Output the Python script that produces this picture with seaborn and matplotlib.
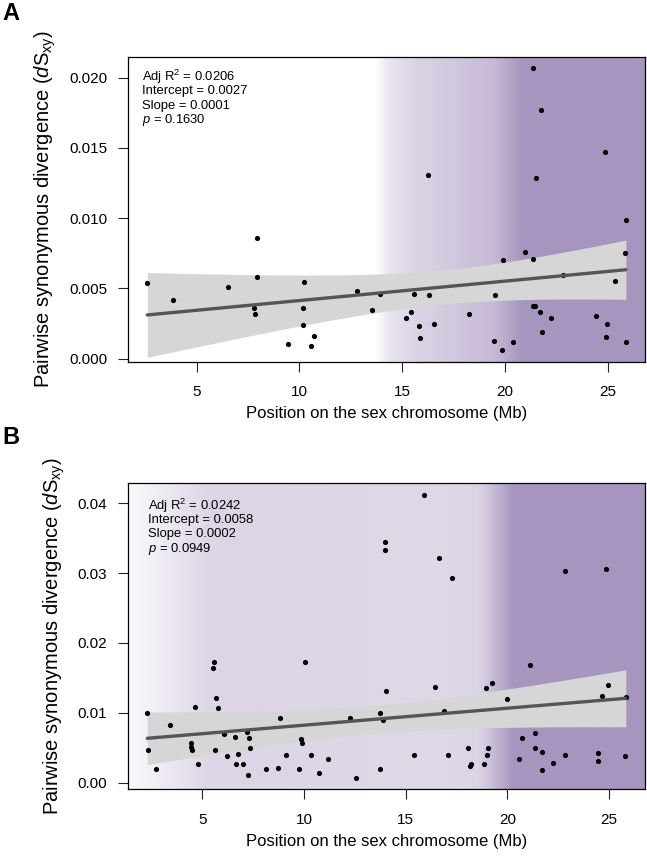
import numpy as np
import pandas as pd
import seaborn as sns
import matplotlib.pyplot as plt
from matplotlib.ticker import FormatStrFormatter

# panel A: positions (Mb) and dSxy
pos_a = [2.60, 3.86, 6.54, 7.95, 7.92, 7.79, 7.86, 9.45, 10.24, 10.15, 10.19, 10.70,
         10.58, 12.82, 13.52, 13.91, 21.36, 21.73, 16.25, 21.52, 24.84, 25.85, 20.94,
         19.88, 21.34, 25.81, 25.33, 15.56, 16.30, 19.49, 22.80, 15.41, 15.17, 15.82,
         15.88, 16.53, 18.23, 19.48, 19.85, 20.40, 21.36, 21.44, 21.68, 22.25, 21.79,
         24.44, 24.95, 24.92, 25.87]
ds_a = [0.00539, 0.00420, 0.00510, 0.00858, 0.00578, 0.00361, 0.00320, 0.00102, 0.00546,
        0.00361, 0.00241, 0.00161, 0.00090, 0.00478, 0.00349, 0.00460, 0.02066, 0.01771,
        0.01305, 0.01285, 0.01472, 0.00987, 0.00759, 0.00701, 0.00710, 0.00752, 0.00552,
        0.00463, 0.00453, 0.00453, 0.00594, 0.00334, 0.00286, 0.00235, 0.00148, 0.00247,
        0.00315, 0.00126, 0.00058, 0.00116, 0.00376, 0.00376, 0.00334, 0.00286, 0.00186,
        0.00305, 0.00247, 0.00157, 0.00116]

# panel B
pos_b = [2.30, 2.36, 2.75, 3.44, 4.67, 4.43, 4.44, 4.48, 4.79, 5.51, 5.56, 5.69, 5.80,
         5.61, 6.07, 6.21, 6.59, 6.64, 6.77, 7.03, 7.21, 7.31, 7.34, 7.25, 8.13, 8.72,
         8.82, 9.10, 9.75, 9.85, 9.90, 10.07, 10.36, 10.74, 11.20, 12.28, 12.56, 13.74,
         13.74, 13.89, 14.03, 15.41, 16.43, 16.87, 17.10, 18.08, 18.16, 18.23, 18.87,
         18.97, 19.26, 19.05, 18.98, 20.00, 20.59, 20.70, 21.10, 21.34, 21.36, 21.72,
         21.72, 22.25, 22.85, 24.44, 24.44, 24.66, 24.97, 25.82, 25.80, 15.90, 14.00,
         13.97, 16.62, 17.30, 22.84, 24.84]
ds_b = [0.0100, 0.00467, 0.0019, 0.0082, 0.0108, 0.0057, 0.0051, 0.0046, 0.0027, 0.01638,
        0.0172, 0.0121, 0.0107, 0.0047, 0.0070, 0.0038, 0.0065, 0.0026, 0.0041, 0.0027,
        0.0073, 0.0064, 0.0049, 0.0011, 0.0019, 0.0021, 0.0092, 0.0039, 0.0019, 0.0062,
        0.0056, 0.0173, 0.0040, 0.0014, 0.0034, 0.0092, 0.0007, 0.0100, 0.0019, 0.0090,
        0.0131, 0.0039, 0.0137, 0.0103, 0.0040, 0.0050, 0.0023, 0.0027, 0.0026, 0.0136,
        0.0142, 0.0049, 0.0039, 0.0120, 0.0033, 0.0064, 0.0168, 0.0071, 0.0050, 0.0044,
        0.0018, 0.0028, 0.0040, 0.0043, 0.0031, 0.0124, 0.0139, 0.0123, 0.0038, 0.04124,
        0.03443, 0.03329, 0.03214, 0.02924, 0.03033, 0.03062]

stats_a = ['Adj R$^2$ = 0.0206', 'Intercept = 0.0027', 'Slope = 0.0001', '$p$ = 0.1630']
stats_b = ['Adj R$^2$ = 0.0242', 'Intercept = 0.0058', 'Slope = 0.0002', '$p$ = 0.0949']

# background shading stops (Mb, colour)
shade_a = [(0, '#ffffff'), (13.7, '#ffffff'), (14.4, '#e9e4ef'), (15.5, '#ddd5e6'),
           (17.9, '#cfc5dd'), (19.5, '#c6b9d6'), (20.8, '#a696bf'), (30, '#a696bf')]
shade_b = [(0, '#ffffff'), (1.4, '#fbfafc'), (5.4, '#ddd5e6'), (17.0, '#dfd8e7'),
           (18.6, '#dcd4e5'), (19.2, '#cbc0da'), (20.3, '#a696bf'), (30, '#a696bf')]

sns.set_style('ticks')
plt.rcParams['font.family'] = ['Liberation Sans', 'DejaVu Sans']
plt.rcParams['mathtext.fontset'] = 'custom'
plt.rcParams['mathtext.rm'] = 'Liberation Sans'
plt.rcParams['mathtext.it'] = 'Liberation Sans:italic'
plt.rcParams['text.color'] = 'black'
plt.rcParams['axes.labelcolor'] = 'black'


def r_limits(v):
    lo, hi = min(v), max(v)
    pad = 0.04 * (hi - lo)
    return lo - pad, hi + pad


def shade(ax, stops, xlim, ylim):
    xs = np.linspace(xlim[0], xlim[1], 600)
    sx = [s[0] for s in stops]
    cols = np.array([[int(c[i:i + 2], 16) / 255 for i in (1, 3, 5)] for _, c in stops])
    rgb = np.stack([np.interp(xs, sx, cols[:, k]) for k in range(3)], axis=-1)
    ax.imshow(rgb[None, :, :], extent=[xlim[0], xlim[1], ylim[0], ylim[1]],
              aspect='auto', interpolation='bilinear', zorder=0)


def lm_band(x, y):
    # 95% confidence band of an ordinary least squares fit
    x, y = np.asarray(x), np.asarray(y)
    n = len(x)
    b1, b0 = np.polyfit(x, y, 1)
    resid = y - (b0 + b1 * x)
    s = np.sqrt(np.sum(resid ** 2) / (n - 2))
    sxx = np.sum((x - x.mean()) ** 2)
    df = n - 2
    z = 1.959964
    t = z + (z ** 3 + z) / (4 * df) + (5 * z ** 5 + 16 * z ** 3 + 3 * z) / (96 * df ** 2)
    grid = np.linspace(x.min(), x.max(), 100)
    fit = b0 + b1 * grid
    se = s * np.sqrt(1 / n + (grid - x.mean()) ** 2 / sxx)
    return grid, fit - t * se, fit + t * se


def panel(ax, pos, ds, stops, lines, fmt, yticks, txt_x, txt_y):
    xlim, ylim = r_limits(pos), r_limits(ds)
    shade(ax, stops, xlim, ylim)
    grid, lo, hi = lm_band(pos, ds)
    ax.fill_between(grid, lo, hi, color='#d6d6d6', lw=0, zorder=1.5)
    df = pd.DataFrame({'pos': pos, 'ds': ds})
    sns.regplot(data=df, x='pos', y='ds', ax=ax, ci=None,
                scatter_kws=dict(s=14, color='black', alpha=1, linewidths=0, zorder=2.5),
                line_kws=dict(color='#555555', lw=2.4, zorder=3))
    ax.set_xlim(xlim)
    ax.set_ylim(ylim)
    ax.set_xticks([5, 10, 15, 20, 25])
    ax.set_yticks(yticks)
    ax.yaxis.set_major_formatter(FormatStrFormatter(fmt))
    ax.tick_params(direction='out', length=7, width=0.8, labelsize=11,
                   color='#222222', labelcolor='black')
    ax.tick_params(axis='x', pad=10)
    ax.tick_params(axis='y', pad=8)
    for sp in ax.spines.values():
        sp.set_visible(True)
        sp.set_linewidth(0.9)
        sp.set_color('black')
    ax.set_xlabel('Position on the sex chromosome (Mb)', fontsize=12, labelpad=5)
    ax.set_ylabel(r'Pairwise synonymous divergence ($d$S$_{\rm xy}$)', fontsize=14.5,
                  labelpad=8)
    for i, t in enumerate(lines):
        ax.text(txt_x, txt_y - i * 0.047, t, transform=ax.transAxes, fontsize=9.4,
                va='center', ha='left', zorder=4)


fig = plt.figure(figsize=(6.47, 8.60), dpi=100)
ax_a = fig.add_axes([0.198, 0.5794, 0.799, 0.3543])
ax_b = fig.add_axes([0.198, 0.0826, 0.7988, 0.3555])

panel(ax_a, pos_a, ds_a, shade_a, stats_a, '%.3f',
      [0, 0.005, 0.010, 0.015, 0.020], 0.027, 0.934)
panel(ax_b, pos_b, ds_b, shade_b, stats_b, '%.2f',
      [0, 0.01, 0.02, 0.03, 0.04], 0.039, 0.927)

fig.text(0.004, 1 - 13 / 860, 'A', fontsize=17, fontweight='bold', va='center')
fig.text(0.004, 1 - 438 / 860, 'B', fontsize=17, fontweight='bold', va='center')

fig.savefig('out.png', dpi=100)
